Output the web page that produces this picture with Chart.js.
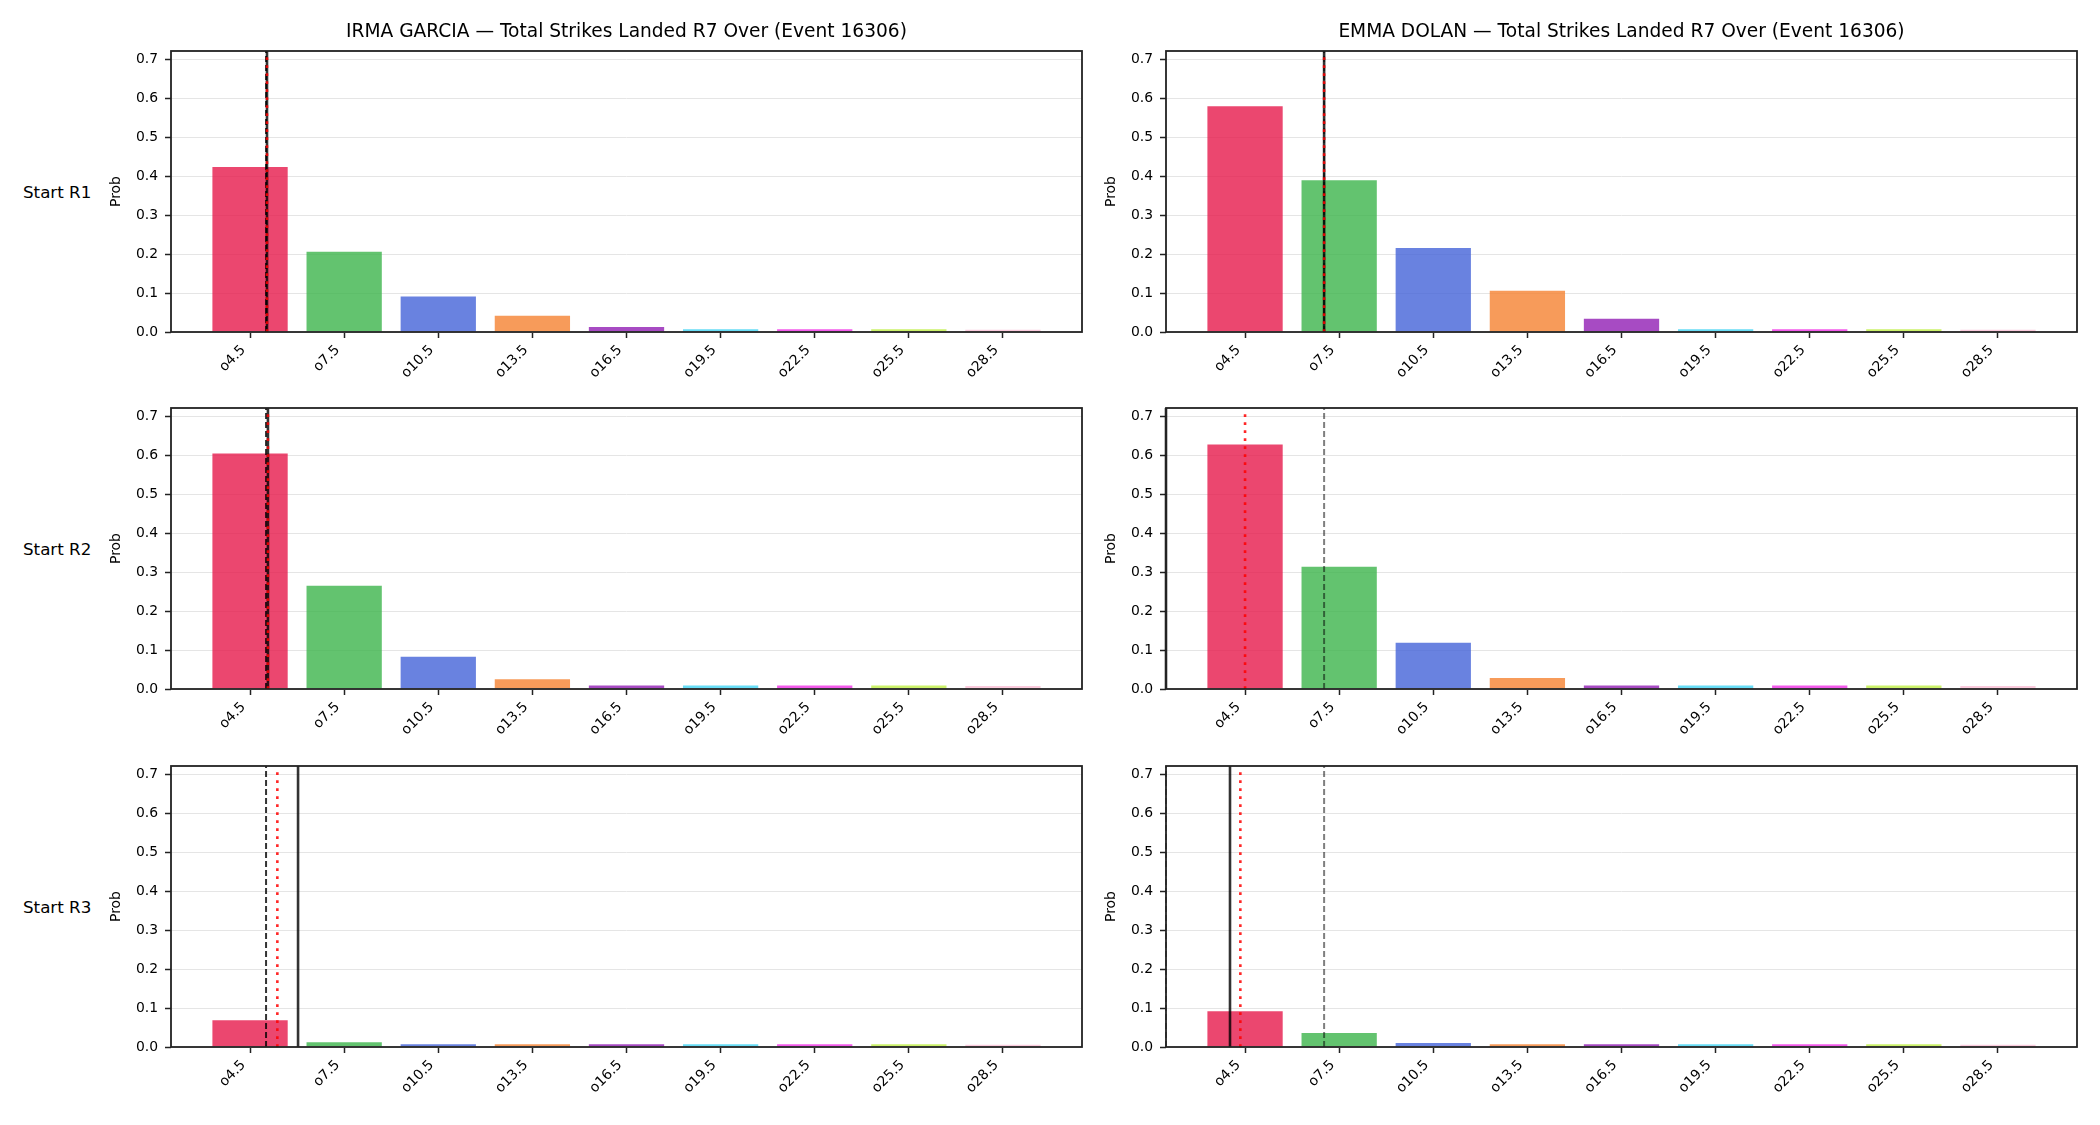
<!DOCTYPE html>
<html>
<head>
<meta charset="utf-8">
<script src="https://cdn.jsdelivr.net/npm/chart.js@4.4.1/dist/chart.umd.min.js"></script>
<style>
  body { margin: 0; background: #fff; width: 2100px; height: 1125px; position: relative; overflow: hidden; font-family: "DejaVu Sans", sans-serif; }
  canvas { position: absolute; }
  .txt { position: absolute; font-size: 16.7px; line-height: 20px; color: #000; white-space: nowrap; }
  .ttl { font-size: 18.6px; line-height: 22px; }
</style>
</head>
<body>
<script>
// ---- data ----
const categories = ['o4.5', 'o7.5', 'o10.5', 'o13.5', 'o16.5', 'o19.5', 'o22.5', 'o25.5', 'o28.5'];
const fighters = ['IRMA GARCIA', 'EMMA DOLAN'];
const roundLabels = ['Start R1', 'Start R2', 'Start R3'];
const titleSuffix = ' \u2014 Total Strikes Landed R7 Over (Event 16306)';

const garciaR1 = [0.424, 0.206, 0.091, 0.042, 0.013, 0.007, 0.007, 0.007, 0.006];
const garciaR2 = [0.605, 0.265, 0.083, 0.025, 0.009, 0.009, 0.009, 0.009, 0.008];
const garciaR3 = [0.069, 0.012, 0.007, 0.007, 0.007, 0.007, 0.007, 0.007, 0.006];
const dolanR1 = [0.580, 0.390, 0.216, 0.106, 0.034, 0.007, 0.007, 0.007, 0.006];
const dolanR2 = [0.628, 0.314, 0.119, 0.028, 0.009, 0.009, 0.009, 0.009, 0.008];
const dolanR3 = [0.092, 0.036, 0.010, 0.007, 0.007, 0.007, 0.007, 0.007, 0.006];

// vertical reference lines, in category units (row R1, R2, R3)
const garciaSolid  = [0.18, 0.19, 0.51];
const garciaDashed = [0.17, 0.17, 0.17];
const garciaDotted = [0.18, 0.19, 0.29];
const dolanSolid   = [0.84, -0.84, -0.16];
const dolanDashed  = [0.84, 0.84, 0.84];
const dolanDotted  = [0.84, 0.00, -0.05];
const dolanEdge    = [null, null, -0.84];

const yTicks = [0, 0.1, 0.2, 0.3, 0.4, 0.5, 0.6, 0.7];
const yMax = 0.722;

const barColors = ['#e6194B', '#3cb44b', '#4363d8', '#f58231', '#911eb4', '#42d4f4', '#f032e6', '#bfef45', '#fabed4'];

// ---- layout ----
const colLeft = [171, 1166];
const colWidth = 911;
const rowTop = [51, 408, 766];
const rowHeight = 281;
const padL = 70, padT = 10, padR = 12, padB = 80;

const lineStyles = {
  solid:  { color: 'rgba(0,0,0,0.8)', width: 2.6, dash: [], reach: 1 },
  dark:   { color: 'rgba(0,0,0,0.8)', width: 2, dash: [6, 3], reach: 1 },
  gray:   { color: 'rgba(0,0,0,0.5)', width: 2, dash: [6, 3], reach: 1 },
  dotted: { color: 'rgba(255,0,0,0.85)', width: 2.6, dash: [2.8, 5.2], reach: 0.98 }
};

function alpha(hex, a) {
  const n = parseInt(hex.slice(1), 16);
  return 'rgba(' + (n >> 16) + ',' + ((n >> 8) & 255) + ',' + (n & 255) + ',' + a + ')';
}

const deco = {
  id: 'deco',
  afterDatasetsDraw(chart, args, o) {
    const { ctx, chartArea: a, scales: { x } } = chart;
    ctx.save();
    o.lines.forEach(l => {
      if (l.x === null) return;
      const st = lineStyles[l.kind];
      const px = x.getPixelForValue(l.x);
      ctx.strokeStyle = st.color;
      ctx.lineWidth = st.width;
      ctx.setLineDash(st.dash);
      ctx.beginPath();
      ctx.moveTo(px, a.bottom);
      ctx.lineTo(px, a.bottom - (a.bottom - a.top) * st.reach);
      ctx.stroke();
    });
    ctx.restore();
  },
  afterDraw(chart) {
    const { ctx, chartArea: a, scales: { x } } = chart;
    ctx.save();
    // frame
    ctx.strokeStyle = '#222';
    ctx.lineWidth = 1.8;
    ctx.strokeRect(a.left, a.top, a.right - a.left, a.bottom - a.top);
    // rotated x labels, right/top anchored at the tick
    ctx.fillStyle = '#000';
    ctx.font = '13.9px "DejaVu Sans"';
    ctx.textAlign = 'right';
    ctx.textBaseline = 'top';
    const h = 13.9 * 1.16;
    categories.forEach((c, i) => {
      const px = x.getPixelForValue(i);
      ctx.save();
      ctx.translate(px - 0.707 * h, a.bottom + 11);
      ctx.rotate(-Math.PI / 4);
      ctx.fillText(c, 0, 0);
      ctx.restore();
    });
    // y label
    ctx.save();
    ctx.translate(a.left - 54.5, (a.top + a.bottom) / 2);
    ctx.rotate(-Math.PI / 2);
    ctx.textAlign = 'center';
    ctx.textBaseline = 'middle';
    ctx.fillText('Prob', 0, 0);
    ctx.restore();
    ctx.restore();
  }
};

function addText(str, left, top, width, cls) {
  const d = document.createElement('div');
  d.className = 'txt' + (cls ? ' ' + cls : '');
  d.textContent = str;
  d.style.left = left + 'px';
  d.style.top = top + 'px';
  if (width) { d.style.width = width + 'px'; d.style.textAlign = 'center'; }
  document.body.appendChild(d);
}

function panel(col, row, values, lines) {
  const c = document.createElement('canvas');
  const w = colWidth + padL + padR, h = rowHeight + padT + padB;
  c.width = w; c.height = h;
  c.style.left = (colLeft[col] - padL) + 'px';
  c.style.top = (rowTop[row] - padT) + 'px';
  c.style.width = w + 'px'; c.style.height = h + 'px';
  document.body.appendChild(c);

  new Chart(c, {
    type: 'bar',
    data: {
      datasets: [{
        data: values.map((v, i) => ({ x: i, y: v })),
        backgroundColor: barColors.map(col => alpha(col, 0.8)),
        borderWidth: 0,
        barPercentage: 0.8,
        categoryPercentage: 1
      }]
    },
    options: {
      responsive: false,
      animation: false,
      devicePixelRatio: 1,
      layout: { padding: { left: 0, top: padT, right: padR, bottom: 0 } },
      plugins: { legend: { display: false }, tooltip: { enabled: false }, deco: { lines } },
      scales: {
        x: {
          type: 'linear',
          min: -0.84, max: categories.length - 1 + 0.84,
          offset: false,
          afterBuildTicks: s => { s.ticks = categories.map((_, i) => ({ value: i })); },
          afterFit: s => { s.height = padB; s.paddingLeft = 0; s.paddingRight = 0; },
          ticks: { display: false },
          border: { display: false },
          grid: { offset: false, drawOnChartArea: false, drawTicks: true, tickLength: 6, tickColor: '#222', tickWidth: 1.5 }
        },
        y: {
          min: 0, max: yMax,
          afterBuildTicks: s => { s.ticks = yTicks.map(v => ({ value: v })); },
          afterFit: s => { s.width = padL; s.paddingTop = 0; s.paddingBottom = 0; },
          ticks: { callback: v => v.toFixed(1), color: '#000', font: { family: 'DejaVu Sans', size: 13.9 }, padding: 7 },
          border: { display: false },
          grid: { color: '#e5e5e5', lineWidth: 1, tickLength: 6, tickColor: '#222', tickWidth: 1.5 }
        }
      }
    },
    plugins: [deco]
  });
}

const garcia = [garciaR1, garciaR2, garciaR3];
const dolan = [dolanR1, dolanR2, dolanR3];

for (let r = 0; r < 3; r++) {
  panel(0, r, garcia[r], [
    { x: garciaSolid[r], kind: 'solid' },
    { x: garciaDashed[r], kind: 'dark' },
    { x: garciaDotted[r], kind: 'dotted' }
  ]);
  panel(1, r, dolan[r], [
    { x: dolanSolid[r], kind: 'solid' },
    { x: dolanDashed[r], kind: 'gray' },
    { x: dolanEdge[r], kind: 'gray' },
    { x: dolanDotted[r], kind: 'dotted' }
  ]);
  addText(roundLabels[r], 23, rowTop[r] + rowHeight / 2 - 10);
}
fighters.forEach((f, i) => addText(f + titleSuffix, colLeft[i], 20, colWidth, 'ttl'));
</script>
</body>
</html>
